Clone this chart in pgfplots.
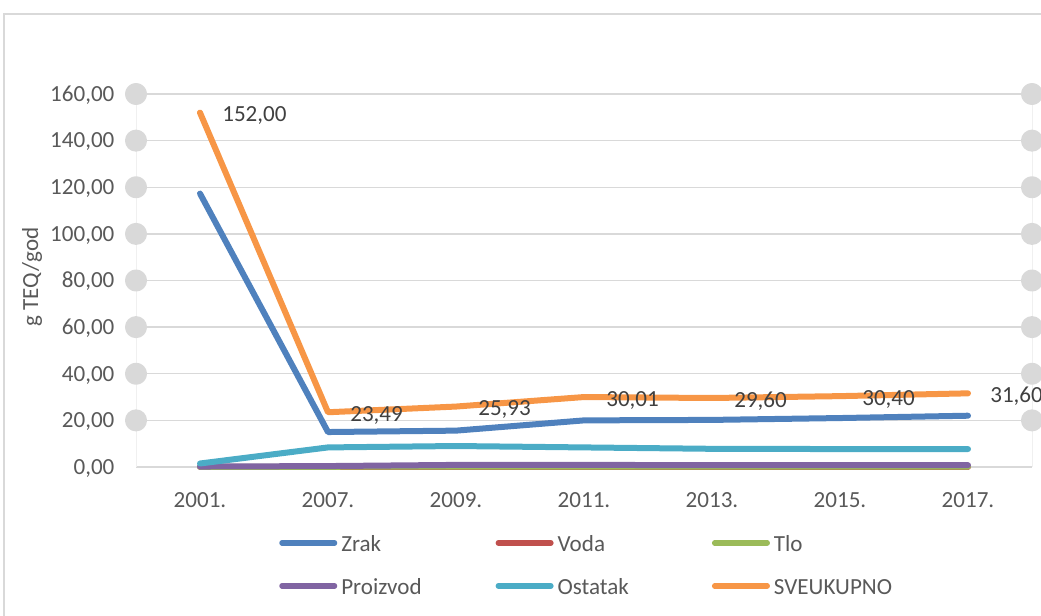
\documentclass[border=0pt]{standalone}
\usepackage{fontspec}
\setmainfont{Carlito}
\usepackage{pgfplots}
\pgfplotsset{compat=1.18}
\definecolor{czrak}{HTML}{4F81BD}
\definecolor{cvoda}{HTML}{C0504D}
\definecolor{ctlo}{HTML}{9BBB59}
\definecolor{cproiz}{HTML}{8064A2}
\definecolor{cost}{HTML}{4BACC6}
\definecolor{csum}{HTML}{F79646}
\definecolor{ctext}{HTML}{595959}
\definecolor{clabel}{HTML}{404040}
\definecolor{cgrid}{HTML}{D9D9D9}
\definecolor{cvert}{HTML}{F0F0F0}
\newcommand{\cf}{\fontsize{17.3}{20}\selectfont}
\newcommand{\legtxt}[1]{\hspace{3pt}\makebox[115.75pt][l]{\strut #1}}
\begin{document}
\begin{tikzpicture}[font=\cf]
\path[use as bounding box] (0,0) rectangle (780.75pt,461.25pt);
\draw[color=cgrid, line width=1.1pt] (3pt,-2pt) -- (3pt,450.75pt) -- (785pt,450.75pt);
\node[rotate=90, text=ctext, font=\cf] at (24pt,253.5pt) {g TEQ/god};
\begin{axis}[
  at={(102pt,111pt)}, anchor=south west,
  scale only axis, width=672pt, height=279.75pt,
  xmin=-0.5, xmax=6.5, ymin=0, ymax=160,
  ytick={0,20,...,160},
  xtick={0,...,6},
  xticklabels={2001.,2007.,2009.,2011.,2013.,2015.,2017.},
  axis line style={draw=none},
  major tick length=0pt,
  ymajorgrids,
  grid style={color=cgrid, line width=1.1pt},
  clip=false,
  /pgf/number format/fixed,
  /pgf/number format/fixed zerofill,
  /pgf/number format/precision=2,
  /pgf/number format/use comma,
  /pgf/number format/1000 sep={},
  /pgf/number format/assume math mode=true,
  tick label style={font=\cf, text=ctext},
  yticklabel style={anchor=base east, inner xsep=0pt, xshift=-16pt, yshift=-5.5pt},
  xticklabel style={anchor=north, inner ysep=0pt, yshift=-18.75pt},
  legend columns=3,
  legend cell align=left,
  legend style={at={(rel axis cs:0.1596,-0.175)}, anchor=north west, draw=none, fill=none,
    inner sep=0pt, font=\cf, text=ctext, row sep=16.75pt, column sep=0pt,
    nodes={inner xsep=0pt, inner ysep=0pt}},
  legend image code/.code={\draw[#1, line width=4pt, line cap=round] (0pt,0pt) -- (39.5pt,0pt);},
  every axis plot/.append style={line width=4.5pt, line cap=round, line join=round},
]
\draw[color=cvert, line width=0.75pt] (rel axis cs:0,0) -- (rel axis cs:0,1);
\draw[color=cvert, line width=0.75pt] (rel axis cs:1,0) -- (rel axis cs:1,1);
\addplot[only marks, mark=*, mark size=6pt, color=cgrid, forget plot] coordinates {
 (-0.5,20) (-0.5,40) (-0.5,60) (-0.5,80) (-0.5,100) (-0.5,120) (-0.5,140) (-0.5,160)
 (6.5,20) (6.5,40) (6.5,60) (6.5,80) (6.5,100) (6.5,120) (6.5,140) (6.5,160)};
\addplot[czrak] coordinates {(0,117.3) (1,15.0) (2,15.6) (3,20.0) (4,20.2) (5,21.0) (6,22.0)};
\addlegendentry{\legtxt{Zrak}}
\addplot[cvoda] coordinates {(0,0.05) (1,0.05) (2,0.05) (3,0.05) (4,0.05) (5,0.05) (6,0.05)};
\addlegendentry{\legtxt{Voda}}
\addplot[ctlo] coordinates {(0,0.1) (1,0.1) (2,0.2) (3,0.2) (4,0.2) (5,0.2) (6,0.2)};
\addlegendentry{\legtxt{Tlo}}
\addplot[cproiz] coordinates {(0,0.2) (1,0.4) (2,0.9) (3,0.9) (4,0.8) (5,0.8) (6,0.8)};
\addlegendentry{\legtxt{Proizvod}}
\addplot[cost] coordinates {(0,1.5) (1,8.4) (2,9.0) (3,8.4) (4,7.8) (5,7.7) (6,7.7)};
\addlegendentry{\legtxt{Ostatak}}
\addplot[csum, nodes near coords, point meta=y,
  nodes near coords style={anchor=west, xshift=14.5pt, yshift=-2.5pt, inner sep=0pt, font=\cf, text=clabel}]
  coordinates {(0,152.00) (1,23.49) (2,25.93) (3,30.01) (4,29.60) (5,30.40) (6,31.60)};
\addlegendentry{\legtxt{SVEUKUPNO}}
\end{axis}
\end{tikzpicture}
\end{document}
